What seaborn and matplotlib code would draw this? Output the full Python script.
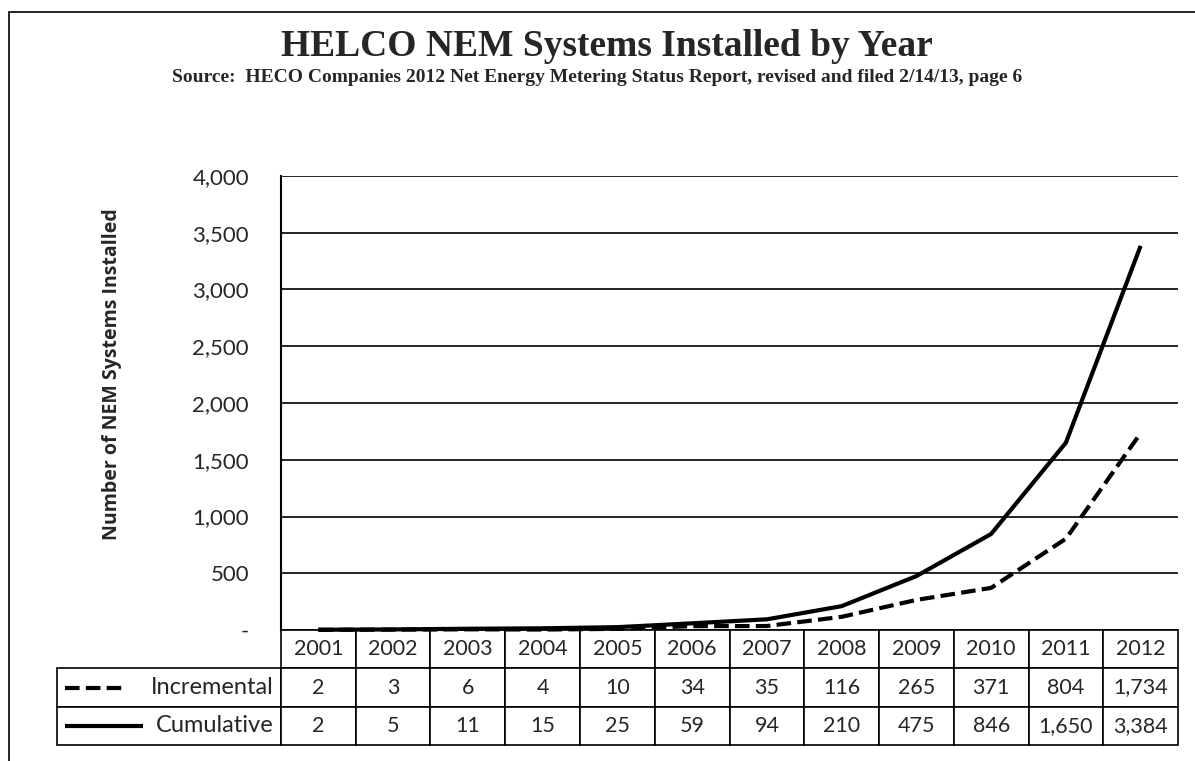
import numpy as np
import pandas as pd
import seaborn as sns
import matplotlib.pyplot as plt
from matplotlib.table import Table
from matplotlib.lines import Line2D
from matplotlib.patches import Rectangle
from matplotlib.ticker import FuncFormatter

# data
years = [2001, 2002, 2003, 2004, 2005, 2006, 2007, 2008, 2009, 2010, 2011, 2012]
incremental = [2, 3, 6, 4, 10, 34, 35, 116, 265, 371, 804, 1734]
cumulative = [2, 5, 11, 15, 25, 59, 94, 210, 475, 846, 1650, 3384]
series_names = ['Incremental', 'Cumulative']
yticks = [0, 500, 1000, 1500, 2000, 2500, 3000, 3500, 4000]

df = pd.DataFrame({
    'year': years * 2,
    'value': incremental + cumulative,
    'series': ['Incremental'] * len(years) + ['Cumulative'] * len(years),
})

sns.set_style('white')
plt.rcParams['font.family'] = ['Lato', 'DejaVu Sans']

W, H = 1195, 761
fig = plt.figure(figsize=(W / 100, H / 100), dpi=100)

# plot area in pixels
x0, x1, ytop, ybot = 281, 1178, 176, 630
ax = fig.add_axes([x0 / W, (H - ybot) / H, (x1 - x0) / W, (ybot - ytop) / H])

sns.lineplot(data=df, x='year', y='value', style='series', hue='series',
             palette={'Incremental': 'black', 'Cumulative': 'black'},
             dashes={'Incremental': (3.5, 1.5), 'Cumulative': ''},
             style_order=series_names, linewidth=3, legend=False, ax=ax)
for ln in ax.lines:
    ln.set_clip_on(False)
    ln.set_solid_capstyle('butt')

ax.set_xlim(years[0] - 0.5, years[-1] + 0.5)
ax.set_ylim(0, 4000)
ax.set_yticks(yticks)
ax.yaxis.set_major_formatter(FuncFormatter(lambda v, p: '-' if v == 0 else f'{int(v):,}'))
ax.tick_params(axis='y', length=0, labelsize=16, pad=23)
ax.set_xticks([])
ax.set_xlabel('')
ax.yaxis.grid(True, color='black', linewidth=1.2)
ax.set_axisbelow(True)
for s in ['top', 'right', 'bottom']:
    ax.spines[s].set_visible(False)
ax.spines['left'].set_color('black')
ax.spines['left'].set_linewidth(1.5)

ax.set_ylabel('Number of NEM Systems Installed', fontsize=14, fontweight='bold',
              family=['Open Sans', 'DejaVu Sans'])
ax.yaxis.set_label_coords((122 - x0) / (x1 - x0), (ybot - 374) / (ybot - ytop))

# data table under the plot
lab_left, tab_bot = 57, 745
pw, ph = x1 - x0, ybot - ytop
tbl = Table(ax, bbox=[(lab_left - x0) / pw, (ybot - tab_bot) / ph,
                      (x1 - lab_left) / pw, (tab_bot - ybot) / ph])
col_w = 1.0
lab_w = (x0 - lab_left) / ((x1 - x0) / len(years))
rows = [[str(y) for y in years],
        [f'{v:,}' for v in incremental],
        [f'{v:,}' for v in cumulative]]
corner = tbl.add_cell(0, 0, width=lab_w, height=1, text='')
corner.visible_edges = ''
label_cells = []
for r, name in enumerate(series_names, start=1):
    c = tbl.add_cell(r, 0, width=lab_w, height=1, text=name, loc='right')
    c.PAD = 0.035
    label_cells.append(c)
for r, row in enumerate(rows):
    for j, txt in enumerate(row, start=1):
        tbl.add_cell(r, j, width=col_w, height=1, text=txt, loc='center')
tbl.auto_set_font_size(False)
tbl.set_fontsize(15.5)
for c in label_cells:
    c.get_text().set_fontsize(17)
for cell in tbl.get_celld().values():
    cell.set_linewidth(1.2)
    cell.set_edgecolor('black')
ax.add_table(tbl)

# legend keys inside the label cells
row_h = (tab_bot - ybot) / 3
for k, (name, ls, xe) in enumerate([('Incremental', (0, (3.5, 1.5)), 125),
                                   ('Cumulative', '-', 143)]):
    yc = (ybot - (ybot + row_h * (k + 1.5))) / ph
    ax.add_line(Line2D([(65 - x0) / pw, (xe - x0) / pw], [yc, yc],
                       transform=ax.transAxes, color='black', linewidth=3,
                       linestyle=ls, clip_on=False, solid_capstyle='butt'))

# titles
fig.text(607 / W, 1 - 47 / H, 'HELCO NEM Systems Installed by Year',
         ha='center', va='center', fontsize=27, fontweight='bold',
         family=['Liberation Serif', 'DejaVu Serif'])
fig.text(597 / W, 1 - 77 / H,
         'Source:  HECO Companies 2012 Net Energy Metering Status Report, revised and filed 2/14/13, page 6',
         ha='center', va='center', fontsize=14, fontweight='bold',
         family=['Liberation Serif', 'DejaVu Serif'])

# outer frame
fig.add_artist(Rectangle((9 / W, -0.05), 1.2, 1 - 12 / H + 0.05,
                         transform=fig.transFigure, fill=False,
                         edgecolor='black', linewidth=1.2))

fig.savefig('out.png', dpi=100)
